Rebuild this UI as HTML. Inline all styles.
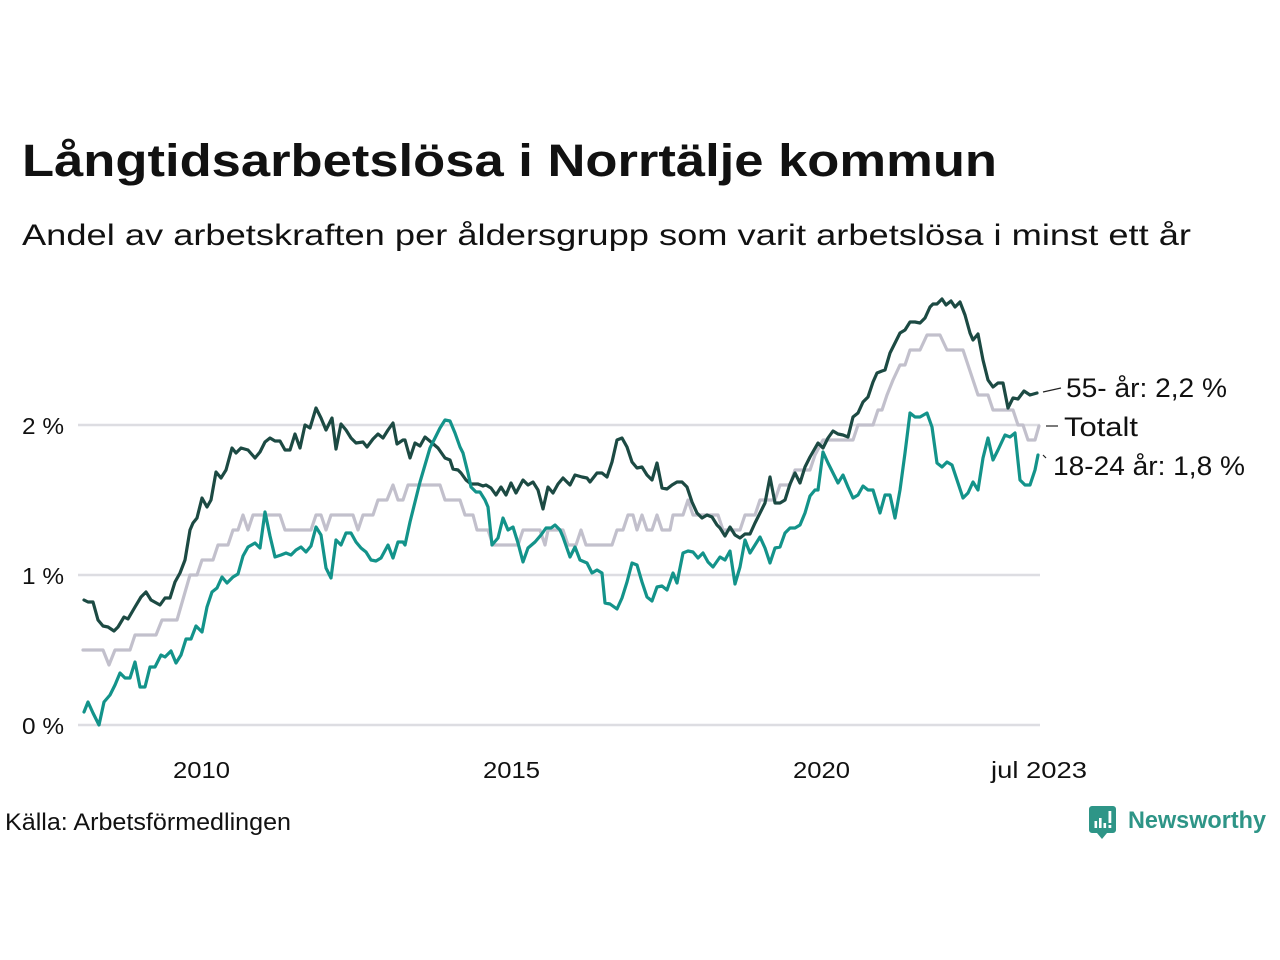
<!DOCTYPE html>
<html><head><meta charset="utf-8"><style>
html,body{margin:0;padding:0;background:#fff;}
svg{display:block;}
text{font-family:"Liberation Sans",sans-serif;fill:#111;}
</style></head><body>
<svg width="1280" height="960" viewBox="0 0 1280 960" xmlns="http://www.w3.org/2000/svg">
<rect width="1280" height="960" fill="#fff"/>
<text x="22" y="176" font-size="45" font-weight="bold" textLength="975" lengthAdjust="spacingAndGlyphs">Långtidsarbetslösa i Norrtälje kommun</text>
<text x="22" y="245" font-size="30" textLength="1169" lengthAdjust="spacingAndGlyphs" fill="#1a1a1a">Andel av arbetskraften per åldersgrupp som varit arbetslösa i minst ett år</text>

<g stroke="#dddde2" stroke-width="2.5">
<line x1="78" y1="425" x2="1040" y2="425"/>
<line x1="78" y1="575" x2="1040" y2="575"/>
<line x1="78" y1="725" x2="1040" y2="725"/>
</g>
<g font-size="23" fill="#222">
<text x="22" y="434" textLength="42" lengthAdjust="spacingAndGlyphs">2 %</text>
<text x="22" y="584" textLength="42" lengthAdjust="spacingAndGlyphs">1 %</text>
<text x="22" y="734" textLength="42" lengthAdjust="spacingAndGlyphs">0 %</text>
<text x="173" y="778" textLength="57" lengthAdjust="spacingAndGlyphs">2010</text>
<text x="483" y="778" textLength="57" lengthAdjust="spacingAndGlyphs">2015</text>
<text x="793" y="778" textLength="57" lengthAdjust="spacingAndGlyphs">2020</text>
<text x="991" y="778" textLength="96" lengthAdjust="spacingAndGlyphs">jul 2023</text>
</g>

<g fill="none" stroke-width="3.2" stroke-linejoin="round" stroke-linecap="round">
<polyline stroke="#c2c0cc" points="83,650 103,650 109,665 115,650 130,650 135,635 156,635 162,620 177,620 190,575 197,575 202,560 213,560 218,545 228,545 233,530 238,530 243,515 248,530 253,515 280,515 285,530 311,530 316,515 321,515 326,530 331,515 353,515 358,530 363,515 373,515 378,500 387,500 393,485 398,500 403,500 408,485 440,485 445,500 460,500 465,515 473,515 477,530 488,530 493,545 518,545 523,530 540,530 545,545 548,530 563,530 568,545 576,545 581,530 586,545 612,545 617,530 623,530 628,515 633,515 637,530 642,515 647,530 652,530 657,515 662,530 670,530 673,515 683,515 688,500 693,515 718,515 723,530 740,530 745,515 755,515 760,500 775,500 780,485 790,485 795,470 810,470 815,455 823,440 853,440 858,425 873,425 878,410 882,410 887,395 893,380 900,365 905,365 910,350 920,350 927,335 940,335 947,350 963,350 968,365 973,380 978,395 988,395 993,410 1013,410 1018,425 1023,425 1028,440 1035,440 1039,426"/>
<polyline stroke="#1c4a43" points="84,600 88,602 93,602 98,620 103,626 108,627 114,631 118,627 124,617 128,619 135,607 141,597 146,592 151,600 160,605 165,598 170,598 175,582 180,573 185,560 190,530 193,523 197,518 202,498 207,507 211,500 216,472 221,478 226,470 232,448 236,453 241,448 248,450 255,458 260,452 265,442 270,438 275,441 280,441 285,450 290,450 295,434 300,448 305,425 310,428 316,408 321,418 326,430 332,418 336,449 341,424 346,430 351,438 356,443 363,442 367,447 373,439 378,434 383,438 388,430 393,423 397,444 403,440 405,440 410,458 415,443 420,446 425,437 431,442 438,448 445,458 450,460 453,469 458,470 461,473 466,480 471,484 478,484 483,486 486,485 491,488 496,495 501,487 506,495 511,483 516,493 523,480 528,485 533,482 538,490 543,509 548,487 553,493 558,484 563,478 570,485 575,475 582,477 587,478 590,482 597,473 602,473 607,477 612,462 617,440 622,438 627,447 632,462 637,468 642,467 647,475 652,480 657,463 662,488 667,489 672,485 677,482 682,482 687,487 692,502 697,513 702,518 707,515 712,517 717,525 720,528 725,536 730,527 735,535 740,538 745,534 750,534 755,523 760,513 765,503 770,477 775,503 780,503 785,500 790,484 795,473 800,483 805,467 810,457 818,443 823,448 828,438 833,431 838,434 843,435 848,437 853,417 858,413 863,402 868,397 873,382 877,373 882,371 885,370 890,353 895,343 900,333 905,330 910,322 915,322 920,323 925,318 930,307 933,304 937,304 942,299 946,305 951,301 955,307 960,302 965,315 970,333 973,340 978,334 983,360 988,380 993,387 998,383 1003,383 1008,408 1013,398 1018,399 1024,391 1030,395 1037,393"/>
<polyline stroke="#13938a" points="84,712 88,702 93,713 99,725 104,702 110,695 115,685 120,673 125,678 130,678 135,662 140,687 145,687 150,667 155,667 161,655 165,657 171,651 176,663 181,655 186,639 191,639 196,626 202,632 207,607 212,592 217,588 222,577 227,583 233,577 238,574 243,556 248,547 255,543 260,548 265,512 270,536 275,557 281,555 286,553 291,555 296,550 301,547 306,552 311,546 316,527 321,535 326,568 331,578 336,540 341,545 346,533 351,533 356,542 361,548 366,552 371,560 376,561 381,558 388,545 393,558 398,542 403,542 405,545 410,522 415,502 420,482 425,465 430,448 435,438 440,428 445,420 450,421 455,433 460,447 463,453 468,473 471,487 476,492 480,492 485,500 488,507 492,545 498,538 503,518 508,530 513,527 518,543 523,562 528,548 535,542 541,535 546,528 551,528 555,525 560,530 563,537 570,557 575,547 580,560 587,563 592,573 597,570 602,573 605,603 610,604 617,609 622,598 627,582 632,563 637,565 642,582 647,597 652,601 657,587 662,586 667,590 673,573 677,583 683,553 688,551 693,552 698,558 703,553 708,562 713,567 720,557 725,560 730,551 735,584 740,567 745,540 750,553 755,545 760,537 765,548 770,563 775,548 780,547 785,533 790,528 795,528 800,525 805,513 810,496 815,490 818,490 823,452 828,463 833,473 838,483 843,475 848,487 853,498 858,495 863,486 868,490 873,490 880,513 885,495 890,495 895,518 900,490 905,453 910,413 915,417 920,417 927,413 932,427 937,463 942,467 947,462 952,465 957,480 963,498 968,493 973,482 978,490 983,458 988,438 993,460 998,450 1005,435 1010,437 1015,433 1020,480 1025,485 1030,485 1035,470 1038,455"/>
</g>

<g stroke="#222" stroke-width="1.2">
<line x1="1043" y1="392" x2="1061" y2="388"/>
<line x1="1046" y1="426" x2="1058" y2="426"/>
<line x1="1043" y1="455" x2="1046" y2="458"/>
</g>
<g font-size="27" fill="#111">
<text x="1066" y="397" textLength="161" lengthAdjust="spacingAndGlyphs">55- år: 2,2 %</text>
<text x="1064" y="436" textLength="74" lengthAdjust="spacingAndGlyphs">Totalt</text>
<text x="1053" y="475" textLength="192" lengthAdjust="spacingAndGlyphs">18-24 år: 1,8 %</text>
</g>

<text x="5" y="830" font-size="24" textLength="286" lengthAdjust="spacingAndGlyphs" fill="#111">Källa: Arbetsförmedlingen</text>

<g>
<path d="M1092,806 h21 a3,3 0 0 1 3,3 v21 a3,3 0 0 1 -3,3 h-6 l-5,6 l-5,-6 h-5 a3,3 0 0 1 -3,-3 v-21 a3,3 0 0 1 3,-3 z" fill="#2e9587"/>
<rect x="1094.5" y="821" width="2.6" height="7" fill="#fff"/>
<rect x="1099" y="818" width="2.6" height="10" fill="#fff"/>
<rect x="1103.5" y="823" width="2.6" height="5" fill="#fff"/>
<rect x="1108.5" y="811" width="2.8" height="12" fill="#fff"/>
<rect x="1108.5" y="825" width="2.8" height="3" fill="#fff"/>
<text x="1128" y="828" font-size="24" font-weight="bold" fill="#2e9587" textLength="138" lengthAdjust="spacingAndGlyphs" style="fill:#2e9587">Newsworthy</text>
</g>
</svg>
</body></html>
